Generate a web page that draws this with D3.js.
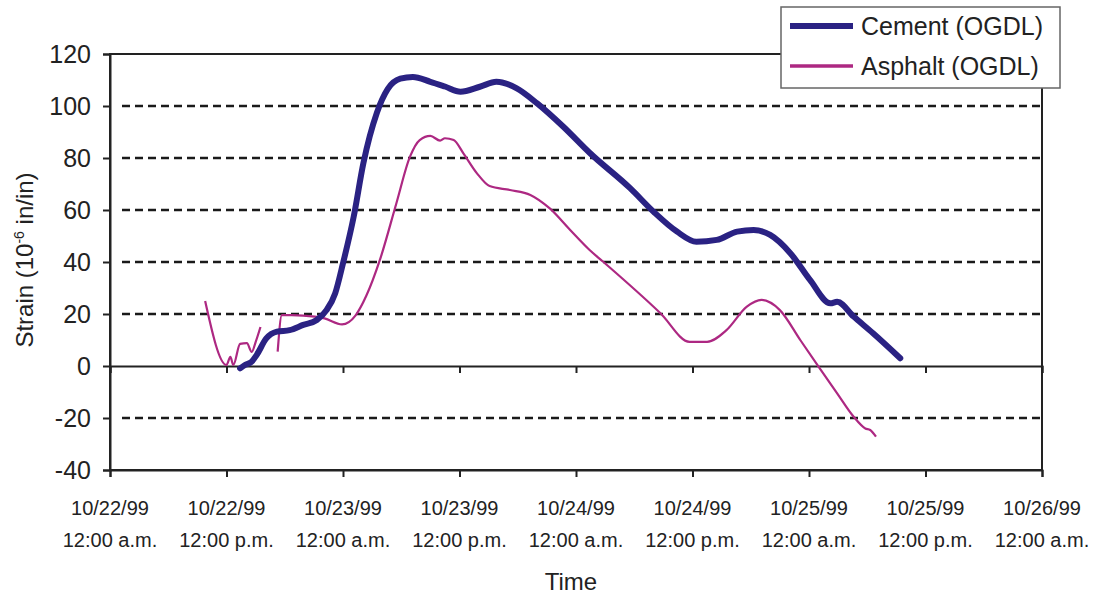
<!DOCTYPE html>
<meta charset="utf-8">
<style>
  body { margin: 0; background: #fff; }
  text { font-family: Arial, "Liberation Sans", Helvetica, sans-serif; fill: #222; }
</style>
<body id="chart"></body>
<script src="https://cdn.jsdelivr.net/npm/d3@7"></script>
<script>
// hours after 10/22/99 12:00 a.m., strain in 10^-6 in/in
var cementHours = [13.4, 13.9, 14.6, 15.1, 16.1, 17.2, 18.5, 19.9, 21.3, 22.3, 23.2, 24.0, 25.1, 26.1,
  27.5, 28.6, 29.9, 31.2, 33.0, 34.5, 36.1, 38.1, 39.8, 41.9, 44.0, 46.7, 49.4, 53.6, 56.0,
  58.4, 60.4, 62.5, 64.6, 66.3, 68.0, 70.1, 72.1, 74.2, 74.9, 76.6, 78.6, 81.4];
var cementStrain = [-0.9, 0.4, 1.7, 4.2, 10.6, 13.2, 13.8, 15.8, 17.7, 21.5, 28, 39.5, 57.4, 78,
  97.5, 106.5, 110.5, 111.2, 109.3, 107.5, 105.5, 107.4, 109.3, 106.8, 101, 92, 82, 68.3, 59.3,
  51.7, 47.8, 48.5, 51.7, 52.3, 50.4, 43.3, 33.1, 24.1, 24.7, 19, 12.6, 3];

var asphaltHours = [9.8, 12.0, 12.4, 12.7, 13.4, 14.1, 14.6, 15.0, 15.5, 16.4, 17.27, 17.7, 18.7, 21.1,
  22.1, 23.9, 25.3, 26.4, 27.8, 29.5, 30.9, 31.9, 33.0, 34.0, 34.5, 35.4, 36.4, 37.8, 39.1, 41.2,
  43.3, 45.3, 47.4, 49.4, 50.8, 56.7, 59.7, 61.5, 63.5, 65.6, 67.1, 69.0, 71.1, 73.0, 74.9, 76.6,
  77.8, 78.3, 78.9];
var asphaltStrain = [25, 0.4, 3.5, 0.4, 8.5, 8.8, 5.4, 9.2, 15, null, 5.5, 19.6, 19.6, 19,
  18.3, 16, 19.5, 27, 40.8, 62.6, 80.5, 86.9, 88.5, 86.7, 87.6, 86.9, 81.8, 74.1, 69.2, 67.7,
  65.8, 60.6, 52.3, 44.6, 40.1, 20.3, 9.3, 9.3, 13.8, 22.8, 25.4, 21.5, 10, -0.3, -10.5, -19.5,
  -24, -24.6, -27.2];

var seriesNames = ["Cement (OGDL)", "Asphalt (OGDL)"];
var seriesColors = ["#2a2283", "#ad2882"];
var yTicks = [-40, -20, 0, 20, 40, 60, 80, 100, 120];
var gridValues = [-20, 20, 40, 60, 80, 100];

var width = 1096, height = 597;
var margin = {top: 54, right: 54, bottom: 127, left: 110};

var start = new Date(1999, 9, 22, 0, 0);
function toDate(h) { return new Date(+start + h * 36e5); }
var xTicks = d3.range(0, 97, 12).map(toDate);

var svg = d3.select("#chart").append("svg")
    .attr("width", width)
    .attr("height", height);

var x = d3.scaleTime()
    .domain([start, toDate(96)])
    .range([margin.left, width - margin.right]);
var y = d3.scaleLinear()
    .domain([-40, 120])
    .range([height - margin.bottom, margin.top]);

//dashed grid
svg.append("g")
  .selectAll("line")
  .data(gridValues)
  .enter().append("line")
    .attr("x1", x.range()[0] + 12)
    .attr("x2", x.range()[1])
    .attr("y1", function(d) { return y(d); })
    .attr("y2", function(d) { return y(d); })
    .attr("stroke", "#1a1a1a")
    .attr("stroke-width", 2.6)
    .attr("stroke-dasharray", "8,5");

//frame
svg.append("rect")
    .attr("x", x.range()[0])
    .attr("y", y(120))
    .attr("width", x.range()[1] - x.range()[0])
    .attr("height", y(-40) - y(120))
    .attr("fill", "none")
    .attr("stroke", "#222")
    .attr("stroke-width", 2);

//y axis
var yAxis = svg.append("g")
    .attr("transform", "translate(" + margin.left + ",0)")
    .call(d3.axisLeft(y).tickValues(yTicks).tickSize(7).tickPadding(12)
      .tickFormat(function(d) { return String(d); }));
yAxis.select(".domain").attr("stroke", "#222").attr("stroke-width", 2);
yAxis.selectAll(".tick line").attr("stroke", "#222").attr("stroke-width", 2);
yAxis.selectAll("text")
    .style("font-size", "25px")
    .style("font-family", "Arial, 'Liberation Sans', sans-serif")
    .attr("fill", "#222");

//x axis on zero line, and at the bottom
[0, -40].forEach(function(v) {
  var g = svg.append("g")
      .attr("transform", "translate(0," + y(v) + ")")
      .call(d3.axisBottom(x).tickValues(xTicks).tickSize(7).tickFormat(""));
  g.select(".domain").attr("stroke", "#222").attr("stroke-width", 2);
  g.selectAll(".tick line").attr("stroke", "#222").attr("stroke-width", 2);
});

var fmtDate = d3.timeFormat("%m/%d/%y");
var labels = svg.append("g")
  .selectAll("text")
  .data(xTicks)
  .enter().append("text")
    .attr("text-anchor", "middle")
    .style("font-size", "20px");
labels.append("tspan")
    .attr("x", function(d) { return x(d); })
    .attr("y", 515)
    .text(function(d) { return fmtDate(d); });
labels.append("tspan")
    .attr("x", function(d) { return x(d); })
    .attr("y", 547)
    .text(function(d) { return d.getHours() < 12 ? "12:00 a.m." : "12:00 p.m."; });

//axis titles
svg.append("text")
    .attr("x", (x.range()[0] + x.range()[1]) / 2 - 5)
    .attr("y", 590)
    .attr("text-anchor", "middle")
    .style("font-size", "24px")
    .text("Time");

var yt = svg.append("text")
    .attr("transform", "translate(33,260) rotate(-90)")
    .attr("text-anchor", "middle")
    .style("font-size", "24px");
yt.append("tspan").text("Strain (10");
yt.append("tspan").attr("dy", -9).style("font-size", "14px").text("-6");
yt.append("tspan").attr("dy", 9).text(" in/in)");

//lines
var line = d3.line()
    .defined(function(d) { return d[1] != null; })
    .x(function(d) { return x(toDate(d[0])); })
    .y(function(d) { return y(d[1]); })
    .curve(d3.curveMonotoneX);

var cement = cementHours.map(function(h, i) { return [h, cementStrain[i]]; });
var asphalt = asphaltHours.map(function(h, i) { return [h, asphaltStrain[i]]; });

svg.append("path")
    .datum(asphalt)
    .attr("d", line)
    .attr("fill", "none")
    .attr("stroke", seriesColors[1])
    .attr("stroke-width", 2.2);

svg.append("path")
    .datum(cement)
    .attr("d", line)
    .attr("fill", "none")
    .attr("stroke", seriesColors[0])
    .attr("stroke-width", 6)
    .attr("stroke-linecap", "round");

//legend
var legend = svg.append("g");
legend.append("rect")
    .attr("x", 781).attr("y", 7)
    .attr("width", 279).attr("height", 81)
    .attr("fill", "#fff")
    .attr("stroke", "#666")
    .attr("stroke-width", 1.5);
seriesNames.forEach(function(name, i) {
  var cy = 26 + i * 40;
  legend.append("line")
      .attr("x1", 790).attr("x2", 853)
      .attr("y1", cy).attr("y2", cy)
      .attr("stroke", seriesColors[i])
      .attr("stroke-width", i == 0 ? 6 : 3.5);
  legend.append("text")
      .attr("x", 861).attr("y", cy + 9)
      .style("font-size", "25px")
      .text(name);
});
</script>
